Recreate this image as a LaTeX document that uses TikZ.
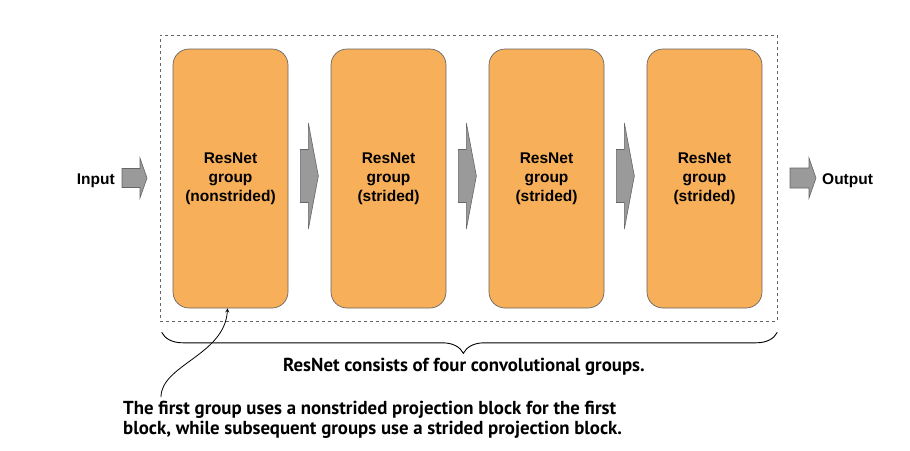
\documentclass[tikz,border=0pt]{standalone}
\usepackage{fontspec}
\setmainfont{Liberation Sans}
\newfontfamily\notefont{PT Sans}
\usetikzlibrary{calc,decorations.pathreplacing}
\definecolor{grouporange}{HTML}{F7AF59}
\definecolor{arrowgray}{HTML}{9A9A9A}
\definecolor{edgegray}{HTML}{666666}
\tikzset{
  pics/fatarrow/.style n args={4}{code={
    \filldraw[fill=arrowgray,draw=edgegray,line width=.6pt] (0,-#3)--(#1,-#3)--(#1,-#4)--(#1+#2,0)--(#1,#4)--(#1,#3)--(0,#3)--cycle;}}
}
\begin{document}
\begin{tikzpicture}[x=1pt,y=-1pt]
		  \tikzstyle{every node}=[font=\fontsize{15.5}{19}\selectfont\bfseries]
		  \tikzstyle{resgroup}=[draw=edgegray,fill=grouporange,line width=.7pt,rounded corners=16pt,minimum width=115pt,minimum height=259pt,align=center,inner sep=0pt]
		  \tikzstyle{note}=[font=\notefont\fontsize{18.8}{20}\selectfont\bfseries,inner sep=0pt]
		  \useasboundingbox (0,0) rectangle (910,450);
		  \node[draw=edgegray,dashed,line width=.6pt,minimum width=617pt,minimum height=286pt,inner sep=0pt] (outer) at (468.5,178) {};
		  \foreach \i/\kind in {1/nonstrided,2/strided,3/strided,4/strided}
		    \node[resgroup] (g\i) at ({230.5+158*(\i-1)},178.5) {ResNet\\group\\(\kind)};
		  \foreach \i in {1,2,3}
		    \pic at ($(g\i.east)+(12,-2.5)$) {fatarrow={8}{10}{26.5}{53}};
		  \node[anchor=base east,inner sep=0pt] (in) at (115,184) {Input};
		  \pic at (122,178) {fatarrow={18}{7}{9.5}{20}};
		  \node[anchor=base west,inner sep=0pt] (out) at (822,184) {Output};
		  \pic at (790,178) {fatarrow={19}{7}{10}{20}};
		  \draw[decorate,decoration={brace,mirror,amplitude=21pt,aspect=0.49},line width=.9pt] ($(outer.south west)+(2,11)$)--($(outer.south east)+(0,11)$);
		  \node[note] (bracelabel) at (464,367) {ResNet consists of four convolutional groups.};
		  \node[note,anchor=north west,align=left] (callout) at (123,401) {The first group uses a nonstrided projection block for the first\\block, while subsequent groups use a strided projection block.};
		  \coordinate (notestart) at (161,397);
		  \draw[line width=.8pt,-stealth](notestart) .. controls (161,365) and (225,355) .. ($(g1.south)+(-3,0)$);
		\end{tikzpicture}
\end{document}
